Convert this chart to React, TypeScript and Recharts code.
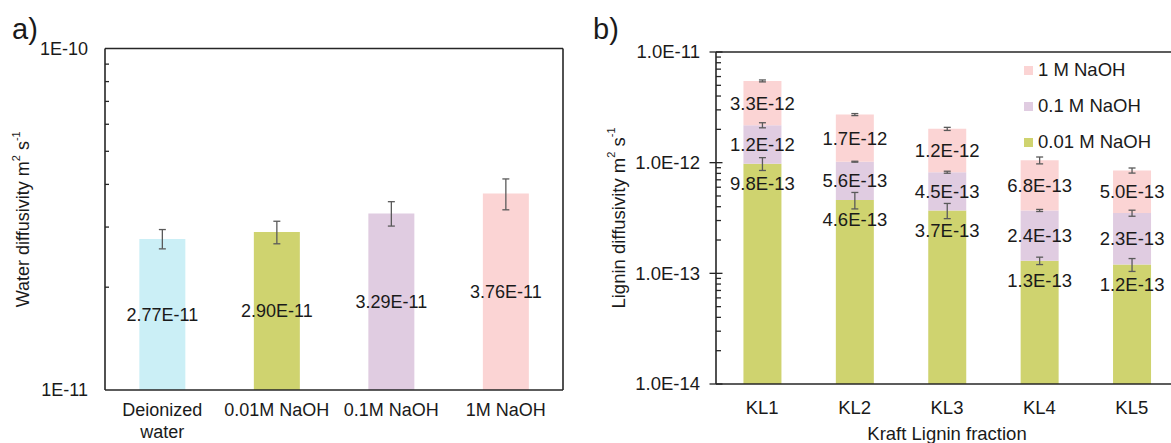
import React from 'react';
import { BarChart, Bar, XAxis, YAxis, ErrorBar, LabelList, Legend, Cell } from 'recharts';

// a) water diffusivity in the different media
const waterCategories = ['Deionized\nwater', '0.01M NaOH', '0.1M NaOH', '1M NaOH'];
const waterDiffusivity = [2.77e-11, 2.9e-11, 3.29e-11, 3.76e-11];
const waterError = [0.18e-11, 0.22e-11, 0.27e-11, 0.39e-11];
const waterDecades = [1e-11, 1e-10];

// b) lignin diffusivity per kraft lignin fraction, one stack per fraction
const ligninFractions = ['KL1', 'KL2', 'KL3', 'KL4', 'KL5'];
const lignin001M = [9.8e-13, 4.6e-13, 3.7e-13, 1.3e-13, 1.2e-13];
const lignin01M = [1.2e-12, 5.6e-13, 4.5e-13, 2.4e-13, 2.3e-13];
const lignin1M = [3.3e-12, 1.7e-12, 1.2e-12, 6.8e-13, 5.0e-13];
const lignin001MError = [1.3e-13, 0.78e-13, 0.58e-13, 0.1e-13, 0.16e-13];
const lignin01MError = [1.15e-13, 0.1e-13, 0.17e-13, 0.08e-13, 0.22e-13];
const lignin1MError = [1.1e-13, 0.57e-13, 0.65e-13, 0.75e-13, 0.45e-13];
const ligninDecades = [1e-14, 1e-13, 1e-12, 1e-11];

const FONT = '"Liberation Sans", Arial, Helvetica, sans-serif';
const CYAN = '#CBEFF6';
const OLIVE = '#CFD36F';
const LILAC = '#E0CCE1';
const PINK = '#FBD4D4';
const INK = '#1a1a1a';
const AXIS = { stroke: '#262626', strokeWidth: 1.6 };
const ERR = '#5a5a5a';

const waterColors = [CYAN, OLIVE, LILAC, PINK];

const waterData = waterCategories.map((name, i) => ({
  name,
  value: waterDiffusivity[i],
  error: waterError[i],
}));

const ligninData = ligninFractions.map((name, i) => ({
  name,
  naoh001: lignin001M[i],
  naoh01: lignin01M[i],
  naoh1: lignin1M[i],
  err001: lignin001MError[i],
  err01: lignin01MError[i],
  err1: lignin1MError[i],
}));

const ligninSeries = [
  { key: 'naoh001', err: 'err001', name: '0.01 M NaOH', color: OLIVE },
  { key: 'naoh01', err: 'err01', name: '0.1 M NaOH', color: LILAC },
  { key: 'naoh1', err: 'err1', name: '1 M NaOH', color: PINK },
];

// decade ticks plus the 2..9 minor ticks in between
const withMinorTicks = (decades: number[]) => {
  const out: number[] = [];
  decades.forEach((d, i) => {
    out.push(d);
    if (i < decades.length - 1) for (let k = 2; k <= 9; k++) out.push(d * k);
  });
  return out;
};

const isDecade = (v: number) => Math.abs(Math.log10(v) - Math.round(Math.log10(v))) < 1e-6;
const sci = (digits: number) => (v: any) => Number(v).toExponential(digits).toUpperCase();

const LogTick = (props: any) => {
  const { x, y, payload, outer, majorInner, minorInner, gap, digits, fontSize } = props;
  const v = payload.value;
  const major = isDecade(v);
  const x1 = major ? x - outer : x;
  const x2 = x + (major ? majorInner : minorInner);
  return (
    <g>
      {x2 > x1 && <line x1={x1} x2={x2} y1={y} y2={y} stroke={AXIS.stroke} strokeWidth={1.3} />}
      {major && (
        <text x={x - outer - gap} y={y} dy="0.35em" textAnchor="end" fontSize={fontSize} fill={INK} fontFamily={FONT}>
          {sci(digits)(v)}
        </text>
      )}
    </g>
  );
};

const CategoryTick = (props: any) => {
  const { x, y, payload, firstDy, lineHeight, fontSize } = props;
  const lines = String(payload.value).split('\n');
  return (
    <text x={x} y={y} textAnchor="middle" fontSize={fontSize} fill={INK} fontFamily={FONT}>
      {lines.map((line, i) => (
        <tspan key={i} x={x} dy={i === 0 ? firstDy : lineHeight}>
          {line}
        </tspan>
      ))}
    </text>
  );
};

const AxisTitle = (props: any) => {
  const { viewBox, centerX, text, fontSize } = props;
  const vb = viewBox || { x: 0, y: 0, width: 0, height: 0 };
  const cx = vb.x + centerX;
  const cy = vb.y + vb.height / 2;
  const sup = Math.round(fontSize * 0.62);
  return (
    <text
      x={cx}
      y={cy}
      transform={`rotate(-90, ${cx}, ${cy})`}
      textAnchor="middle"
      dominantBaseline="central"
      fontSize={fontSize}
      fill={INK}
      fontFamily={FONT}
    >
      {text} m
      <tspan dy={-7} fontSize={sup}>2</tspan>
      <tspan dy={7}> s</tspan>
      <tspan dy={-7} fontSize={sup}>-1</tspan>
    </text>
  );
};

const LegendBox = () => (
  <div style={{ fontFamily: FONT, fontSize: 18.5, color: INK }}>
    {[...ligninSeries].reverse().map((s) => (
      <div key={s.key} style={{ display: 'flex', alignItems: 'center', height: 36, whiteSpace: 'nowrap' }}>
        <span style={{ display: 'inline-block', width: 9, height: 9, background: s.color, marginRight: 5 }} />
        {s.name}
      </div>
    ))}
  </div>
);

const panelLetter: React.CSSProperties = {
  position: 'absolute',
  fontFamily: FONT,
  fontSize: 29,
  color: INK,
  lineHeight: 1,
};

export default function App() {
  return (
    <div
      style={{
        position: 'absolute',
        left: 0,
        top: 0,
        width: 1171,
        height: 443,
        overflow: 'hidden',
        background: '#fff',
        fontFamily: FONT,
      }}
    >
      <div style={{ ...panelLetter, left: 12, top: 15 }}>a)</div>
      <div style={{ ...panelLetter, left: 593, top: 15 }}>b)</div>

      <div style={{ position: 'absolute', left: 0, top: 0 }}>
        <BarChart
          width={590}
          height={443}
          data={waterData}
          margin={{ top: 47.5, right: 26, bottom: 0, left: 0 }}
          barCategoryGap="30%"
        >
          <XAxis
            xAxisId="bottom"
            dataKey="name"
            height={53}
            interval={0}
            tickLine={false}
            tickSize={0}
            tickMargin={0}
            axisLine={AXIS}
            tick={<CategoryTick firstDy={26} lineHeight={22} fontSize={18} />}
          />
          <XAxis xAxisId="top" dataKey="name" orientation="top" height={1} tick={false} tickLine={false} axisLine={AXIS} />
          <YAxis
            yAxisId="left"
            type="number"
            scale="log"
            domain={[waterDecades[0], waterDecades[waterDecades.length - 1]]}
            allowDataOverflow
            ticks={withMinorTicks(waterDecades)}
            interval={0}
            width={105}
            tickLine={false}
            tickSize={0}
            tickMargin={0}
            axisLine={AXIS}
            tick={<LogTick outer={0} majorInner={0} minorInner={4} gap={17} digits={0} fontSize={18} />}
            label={<AxisTitle centerX={23} text="Water diffusivity" fontSize={18} />}
          />
          <YAxis yAxisId="right" orientation="right" type="number" domain={[0, 1]} width={1} tick={false} tickLine={false} axisLine={AXIS} />
          <Bar dataKey="value" xAxisId="bottom" yAxisId="left" isAnimationActive={false}>
            {waterData.map((d, i) => (
              <Cell key={d.name} fill={waterColors[i]} />
            ))}
            <ErrorBar dataKey="error" width={3.5} stroke={ERR} strokeWidth={1.3} direction="y" />
            <LabelList
              dataKey="value"
              position="center"
              formatter={sci(2)}
              fontSize={18}
              fill={INK}
              fontFamily={FONT}
            />
          </Bar>
        </BarChart>
      </div>

      <div style={{ position: 'absolute', left: 580, top: 0 }}>
        <BarChart
          width={608}
          height={443}
          data={ligninData}
          margin={{ top: 51, right: 9, bottom: 0, left: 0 }}
          barCategoryGap="29.7%"
        >
          <XAxis
            xAxisId="bottom"
            dataKey="name"
            height={59}
            interval={0}
            tickLine={false}
            tickSize={0}
            tickMargin={0}
            axisLine={AXIS}
            tick={<CategoryTick firstDy={29.5} lineHeight={22} fontSize={18.5} />}
            label={{
              value: 'Kraft Lignin fraction',
              position: 'insideBottom',
              offset: 3.5,
              fontSize: 18.5,
              fill: INK,
              fontFamily: FONT,
            }}
          />
          <XAxis xAxisId="top" dataKey="name" orientation="top" height={1} tick={false} tickLine={false} axisLine={AXIS} />
          <YAxis
            yAxisId="left"
            type="number"
            scale="log"
            domain={[ligninDecades[0], ligninDecades[ligninDecades.length - 1]]}
            allowDataOverflow
            ticks={withMinorTicks(ligninDecades)}
            interval={0}
            width={136}
            tickLine={false}
            tickSize={0}
            tickMargin={0}
            axisLine={AXIS}
            tick={<LogTick outer={6.5} majorInner={6.5} minorInner={5} gap={9.5} digits={1} fontSize={18.5} />}
            label={<AxisTitle centerX={38} text="Lignin diffusivity" fontSize={18.5} />}
          />
          <YAxis yAxisId="right" orientation="right" type="number" domain={[0, 1]} width={1} tick={false} tickLine={false} axisLine={AXIS} />
          {ligninSeries.map((s, i) => (
            <Bar
              key={s.key}
              dataKey={s.key}
              name={s.name}
              stackId="kl"
              fill={s.color}
              xAxisId="bottom"
              yAxisId="left"
              isAnimationActive={false}
            >
              <ErrorBar dataKey={s.err} width={3.5} stroke={ERR} strokeWidth={1.3} direction="y" />
              <LabelList
                dataKey={s.key}
                position={i === 0 ? 'insideTop' : 'center'}
                offset={i === 0 ? 13 : 5}
                formatter={sci(1)}
                fontSize={18.5}
                fill={INK}
                fontFamily={FONT}
              />
            </Bar>
          ))}
          <Legend
            layout="vertical"
            align="center"
            verticalAlign="middle"
            wrapperStyle={{ left: 444, top: 52, width: 170 }}
            content={() => <LegendBox />}
          />
        </BarChart>
      </div>
    </div>
  );
}
